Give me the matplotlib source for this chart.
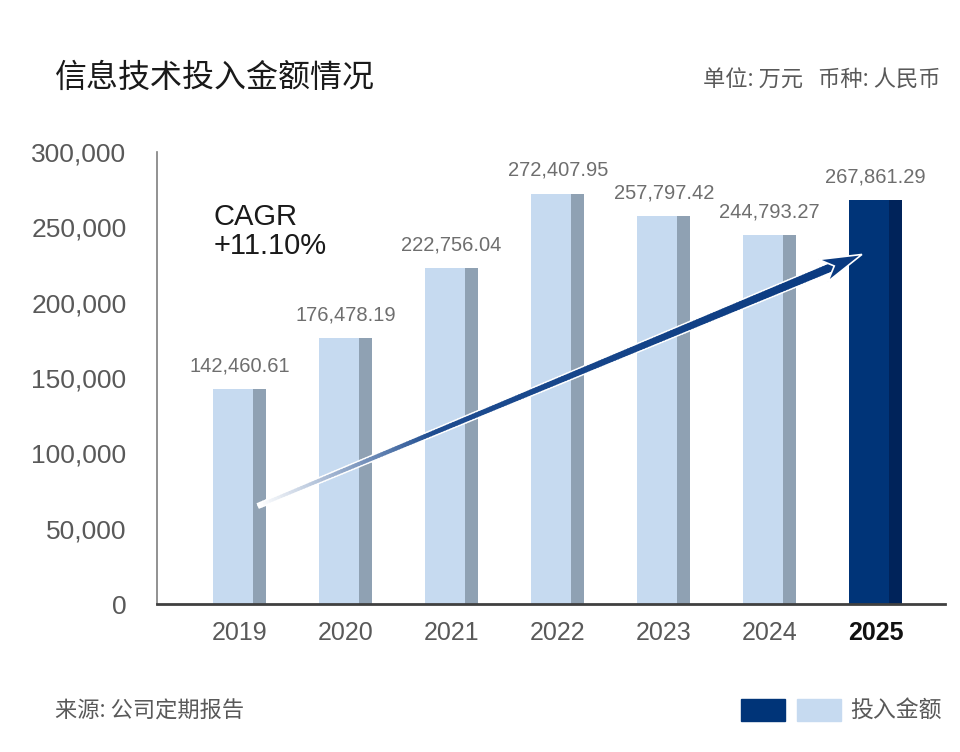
import numpy as np
import matplotlib.pyplot as plt
from matplotlib.collections import LineCollection
from matplotlib.colors import LinearSegmentedColormap
from matplotlib.patches import Polygon
from matplotlib.transforms import IdentityTransform

plt.rcParams['font.family'] = ['Liberation Sans', 'Noto Sans CJK SC', 'DejaVu Sans']

years = ['2019', '2020', '2021', '2022', '2023', '2024', '2025']
values = [142460.61, 176478.19, 222756.04, 272407.95, 257797.42, 244793.27, 267861.29]
yticks = [0, 50000, 100000, 150000, 200000, 250000, 300000]
cagr_text = 'CAGR\n+11.10%'

light_front, light_side = '#C6DAF0', '#8FA1B3'
dark_front, dark_side = '#003478', '#00235A'
navy = '#0A3A80'

fig = plt.figure(figsize=(9.6, 7.52), dpi=100)
ax = fig.add_axes([0.1635, 0.1968, 0.8205, 0.6011])

x = np.arange(len(years))
front_w, side_w = 0.375, 0.125
for i, v in enumerate(values):
    last = i == len(values) - 1
    fc, sc = (dark_front, dark_side) if last else (light_front, light_side)
    ax.bar(x[i] - 0.25, v, width=front_w, align='edge', color=fc, zorder=2)
    ax.bar(x[i] - 0.25 + front_w, v, width=side_w, align='edge', color=sc, zorder=2)
    ax.text(x[i], v + 9000, f'{v:,.2f}', ha='center', va='bottom',
            fontsize=14.5, color='#6E6E6E')

ax.set_xlim(-0.78, 6.65)
ax.set_ylim(0, 300000)
ax.set_yticks(yticks)
ax.set_yticklabels([f'{t:,}' for t in yticks], fontsize=19, color='#595959')
ax.set_xticks(x)
ax.set_xticklabels(years, fontsize=18, color='#595959')
lbl = ax.get_xticklabels()[-1]
lbl.set_fontweight('bold')
lbl.set_color('#111111')
ax.tick_params(length=0, pad=12)
ax.tick_params(axis='y', pad=22)
for s in ['top', 'right']:
    ax.spines[s].set_visible(False)
ax.spines['left'].set_color('#7F7F7F')
ax.spines['left'].set_linewidth(1.2)
ax.spines['bottom'].set_color('#404040')
ax.spines['bottom'].set_linewidth(2)

# growth arrow, drawn in pixel space
fig.canvas.draw()
p0 = ax.transData.transform((0.17, 65000))
tip = ax.transData.transform((5.87, 232000))
d = tip - p0
u = d / np.hypot(*d)
nrm = np.array([-u[1], u[0]])
head_len, head_half, notch = 42, 12, 30
shaft_end = tip - u * (notch + 2)

n = 200
t = np.linspace(0, 1, n + 1)
pts = p0[None, :] + (shaft_end - p0)[None, :] * t[:, None]
segs = np.stack([pts[:-1], pts[1:] + u * 0.8], axis=1)
widths = 2.2 + 3.8 * t[:-1]
cmap = LinearSegmentedColormap.from_list('arr', [(0, '#FFFFFF'), (0.3, '#1E4C90'), (1, navy)])
outline = LineCollection(segs, colors='white', linewidths=widths + 2.2,
                         transform=IdentityTransform(), zorder=4)
lc = LineCollection(segs, colors=cmap(t[:-1]), linewidths=widths, capstyle='butt',
                    transform=IdentityTransform(), zorder=5)
fig.add_artist(outline)
fig.add_artist(lc)
head = Polygon([tip, tip - u * head_len + nrm * head_half, tip - u * notch,
                tip - u * head_len - nrm * head_half], closed=True,
               facecolor=navy, edgecolor='white', linewidth=1.2,
               transform=IdentityTransform(), zorder=6)
fig.add_artist(head)

ax.text(-0.25, 247000, cagr_text, fontsize=21, color='#1A1A1A', va='center', ha='left',
        linespacing=1.05, zorder=6)

fig.text(0.057, 0.896, '信息技术投入金额情况', fontsize=23, color='#1A1A1A',
         family=['Noto Sans CJK SC'], va='center', ha='left')
fig.text(0.98, 0.893, '单位: 万元   币种: 人民币', fontsize=16, color='#595959',
         family=['Noto Sans CJK SC', 'DejaVu Sans'], style='italic', va='center', ha='right')
fig.text(0.057, 0.055, '来源: 公司定期报告', fontsize=16, color='#595959',
         family=['Noto Sans CJK SC', 'DejaVu Sans'], va='center', ha='left')

# legend squares
fig.patches.append(plt.Rectangle((0.772, 0.041), 0.046, 0.030, color=dark_front,
                                 transform=fig.transFigure, figure=fig))
fig.patches.append(plt.Rectangle((0.830, 0.041), 0.046, 0.030, color=light_front,
                                 transform=fig.transFigure, figure=fig))
fig.text(0.886, 0.055, '投入金额', fontsize=16.5, color='#595959',
         family=['Noto Sans CJK SC'], va='center', ha='left')

fig.savefig('out.png', dpi=100)
